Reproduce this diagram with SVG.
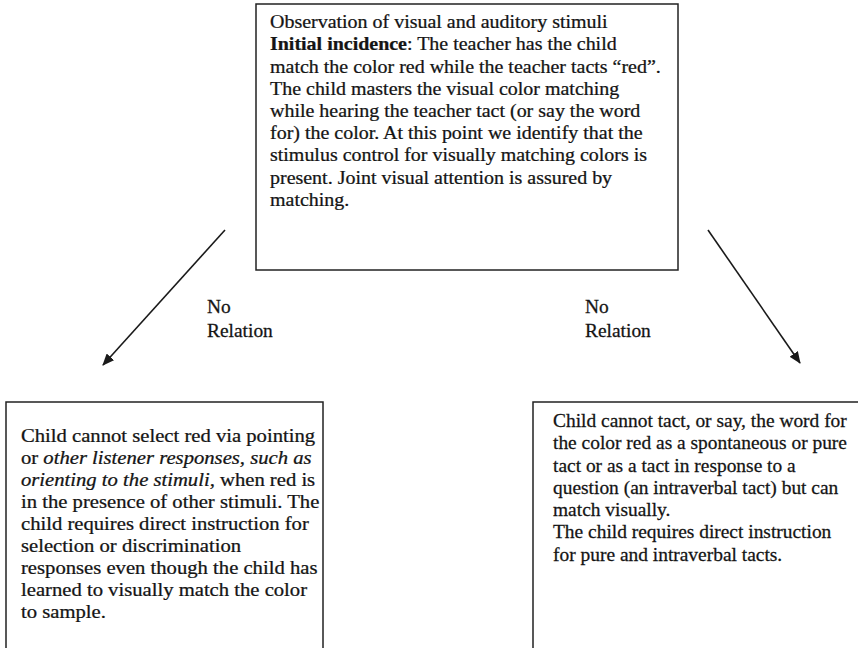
<svg xmlns="http://www.w3.org/2000/svg" width="858" height="648" viewBox="0 0 858 648">
  <style>
    .box { fill: #ffffff; stroke: #222222; stroke-width: 1.5; }
    .txt { font-family: "Liberation Serif", "Times New Roman", serif; font-size: 18px; fill: #141414; stroke: #141414; stroke-width: 0.25; }
    .edge { stroke: #1a1a1a; stroke-width: 1.6; fill: none; marker-end: url(#arrow); }
  </style>
  <defs>
    <marker id="arrow" viewBox="0 0 12 10" refX="11" refY="5" markerWidth="12" markerHeight="10" markerUnits="userSpaceOnUse" orient="auto">
      <path d="M0,0 L12,5 L0,10 Z" fill="#1a1a1a"/>
    </marker>
  </defs>
  <rect width="858" height="648" fill="#ffffff"/>

  <!-- Root observation box -->
  <g id="observation">
    <rect class="box" x="256" y="4" width="422" height="266"/>
    <g transform="translate(270,0) scale(1.11,1)">
      <text class="txt" x="0" y="28.3">Observation of visual and auditory stimuli</text>
      <text class="txt" x="0" y="50.5"><tspan font-weight="bold">Initial incidence</tspan>: The teacher has the child</text>
      <text class="txt" x="0" y="72.7">match the color red while the teacher tacts “red”.</text>
      <text class="txt" x="0" y="94.9">The child masters the visual color matching</text>
      <text class="txt" x="0" y="117.1">while hearing the teacher tact (or say the word</text>
      <text class="txt" x="0" y="139.3">for) the color. At this point we identify that the</text>
      <text class="txt" x="0" y="161.5">stimulus control for visually matching colors is</text>
      <text class="txt" x="0" y="183.7">present. Joint visual attention is assured by</text>
      <text class="txt" x="0" y="205.9">matching.</text>
    </g>
  </g>

  <!-- Listener (selection) outcome -->
  <g id="listener">
    <rect class="box" x="6" y="402" width="317" height="270"/>
    <g transform="translate(21,0) scale(1.148,1)">
      <text class="txt" x="0" y="441.7">Child cannot select red via pointing</text>
      <text class="txt" x="0" y="463.8">or <tspan font-style="italic">other listener responses, such as</tspan></text>
      <text class="txt" x="0" y="485.9"><tspan font-style="italic">orienting to the stimuli,</tspan> when red is</text>
      <text class="txt" x="0" y="508.0">in the presence of other stimuli. The</text>
      <text class="txt" x="0" y="530.1">child requires direct instruction for</text>
      <text class="txt" x="0" y="552.2">selection or discrimination</text>
      <text class="txt" x="0" y="574.3">responses even though the child has</text>
      <text class="txt" x="0" y="596.4">learned to visually match the color</text>
      <text class="txt" x="0" y="618.5">to sample.</text>
    </g>
  </g>

  <!-- Speaker (tact) outcome -->
  <g id="speaker">
    <rect class="box" x="533" y="402" width="340" height="270"/>
    <g transform="translate(553,0) scale(1.08,1)">
      <text class="txt" x="0" y="427">Child cannot tact, or say, the word for</text>
      <text class="txt" x="0" y="449.3">the color red as a spontaneous or pure</text>
      <text class="txt" x="0" y="471.6">tact or as a tact in response to a</text>
      <text class="txt" x="0" y="493.9">question (an intraverbal tact) but can</text>
      <text class="txt" x="0" y="516.2">match visually.</text>
      <text class="txt" x="0" y="538.5">The child requires direct instruction</text>
      <text class="txt" x="0" y="560.8">for pure and intraverbal tacts.</text>
    </g>
  </g>

  <!-- Connectors -->
  <g id="connectors">
    <line class="edge" x1="225" y1="230" x2="103" y2="365"/>
    <line class="edge" x1="708" y1="230" x2="800" y2="363"/>
    <g transform="translate(207,0) scale(1.08,1)">
      <text class="txt" x="0" y="313">No</text>
      <text class="txt" x="0" y="337">Relation</text>
    </g>
    <g transform="translate(585,0) scale(1.08,1)">
      <text class="txt" x="0" y="313">No</text>
      <text class="txt" x="0" y="337">Relation</text>
    </g>
  </g>
</svg>
